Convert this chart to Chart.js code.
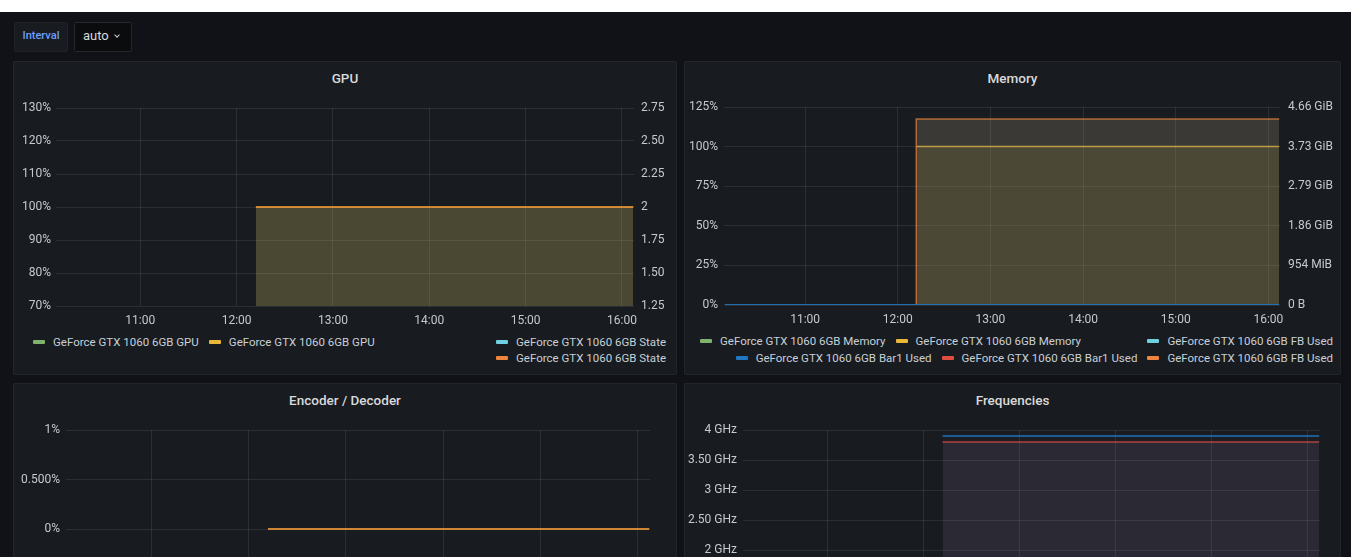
<!DOCTYPE html>
<html>
<head>
<meta charset="utf-8">
<script src="https://cdn.jsdelivr.net/npm/chart.js@4.4.0/dist/chart.umd.min.js"></script>
<style>
  html, body { margin:0; padding:0; }
  body { width:1351px; height:557px; overflow:hidden; background:#111217; position:relative; font-family: Roboto, "Noto Sans", sans-serif; }
  #topstrip { position:absolute; left:0; top:0; width:1351px; height:12px; background:#ffffff; }
  .btn { position:absolute; top:22px; height:30px; box-sizing:border-box; border-radius:2px; line-height:28px; }
  #intv { left:14px; width:54px; background:#181b1f; box-shadow: inset 0 0 0 1px #202226; color:#6e9fff; font-size:11px; font-weight:500; text-align:center; }
  #auto { left:74px; width:58px; background:#0b0c0e; box-shadow: inset 0 0 0 1px #24272c; color:#d8d9da; font-size:13px; padding-left:9px; }
  #auto .chev { display:inline-block; width:3px; height:3px; border-right:1px solid #c7d0d9; border-bottom:1px solid #c7d0d9; transform: rotate(45deg); margin-left:6px; position:relative; top:-3px; }
  .panel { position:absolute; background:#181b1f; box-shadow: inset 0 0 0 1px #22252a; border-radius:2px; overflow:hidden; }
  .ptitle { position:absolute; left:0; right:0; top:7px; height:20px; line-height:20px; text-align:center; color:#d8d9da; font-size:13.5px; font-weight:500; }
  .cw { position:absolute; }
  .lrow { position:absolute; display:flex; align-items:center; gap:10px; height:16px; white-space:nowrap; }
  .li { display:flex; align-items:center; color:#c7d0d9; font-size:11.5px; }
  .sw { width:12px; height:4px; margin-right:8px; border-radius:1px; }
</style>
</head>
<body>
<div id="topstrip"></div>
<div class="btn" id="intv">Interval</div>
<div class="btn" id="auto">auto<span class="chev"></span></div>

<div class="panel" id="p1" style="left:13px; top:61px; width:664px; height:314px;">
  <div class="ptitle">GPU</div>
  <div class="cw" style="left:0; top:31px; width:664px; height:238px;"><canvas id="c1"></canvas></div>
  <div class="lrow" id="l1a" style="left:20px; top:273px;"></div>
  <div class="lrow" id="l1b" style="right:11px; top:273px;"></div>
  <div class="lrow" id="l1c" style="right:11px; top:289px;"></div>
</div>

<div class="panel" id="p2" style="left:684px; top:61px; width:657px; height:314px;">
  <div class="ptitle">Memory</div>
  <div class="cw" style="left:0; top:30px; width:657px; height:238px;"><canvas id="c2"></canvas></div>
  <div class="lrow" id="l2a" style="left:16px; top:272px;"></div>
  <div class="lrow" id="l2b" style="right:8px; top:272px;"></div>
  <div class="lrow" id="l2c" style="right:8px; top:289px;"></div>
</div>

<div class="panel" id="p3" style="left:13px; top:383px; width:664px; height:314px;">
  <div class="ptitle">Encoder / Decoder</div>
  <div class="cw" style="left:0; top:31px; width:664px; height:238px;"><canvas id="c3"></canvas></div>
</div>

<div class="panel" id="p4" style="left:684px; top:383px; width:657px; height:314px;">
  <div class="ptitle">Frequencies</div>
  <div class="cw" style="left:0; top:31px; width:657px; height:250px;"><canvas id="c4"></canvas></div>
</div>

<script>
// ---------- DATA ----------
const timeRange = ['10:07:30', '16:07:30'];
const timeTicks = ['11:00', '12:00', '13:00', '14:00', '15:00', '16:00'];

// GPU panel
const gpuTimes = ['12:12', '16:07'];
const gpuUtil = [100, 100];          // % (left axis)
const gpuState = [2, 2];             // (right axis)
const gpuLeftTicks = [70, 80, 90, 100, 110, 120, 130];
const gpuLeftLabels = ['70%', '80%', '90%', '100%', '110%', '120%', '130%'];
const gpuRightTicks = [1.25, 1.5, 1.75, 2, 2.25, 2.5, 2.75];
const gpuRightLabels = ['1.25', '1.50', '1.75', '2', '2.25', '2.50', '2.75'];

// Memory panel
const memTimes = ['12:12', '16:07'];
const memPercent = [100, 100];                 // % (left axis)
const fbTimes = ['12:12', '12:12', '16:07'];
const fbUsed = [0, 4.7e9, 4.7e9];              // bytes (right axis)
const bar1Times = ['10:08', '16:07'];
const bar1Used = [6e6, 6e6];                   // bytes (right axis)
const memLeftTicks = [0, 25, 50, 75, 100, 125];
const memLeftLabels = ['0%', '25%', '50%', '75%', '100%', '125%'];
const memRightTicks = [0, 1e9, 2e9, 3e9, 4e9, 5e9];
const memRightLabels = ['0 B', '954 MiB', '1.86 GiB', '2.79 GiB', '3.73 GiB', '4.66 GiB'];

// Encoder / Decoder panel
const encTimes = ['12:12', '16:07'];
const encoderUtil = [0, 0];
const decoderUtil = [0, 0];
const encTicks = [-1, -0.5, 0, 0.5, 1];
const encLabels = ['-1%', '-0.500%', '0%', '0.500%', '1%'];

// Frequencies panel
const freqTimes = ['12:12', '16:07'];
const memClock = [3.9, 3.9];        // GHz
const maxClock = [3.8, 3.8];        // GHz
const freqTicks = [0.5, 1, 1.5, 2, 2.5, 3, 3.5, 4];
const freqLabels = ['500 MHz', '1 GHz', '1.50 GHz', '2 GHz', '2.50 GHz', '3 GHz', '3.50 GHz', '4 GHz'];

// Palette
const C = { green:'#7EB26D', yellow:'#EAB839', cyan:'#6ED0E0', orange:'#EF843C', red:'#E24D42', blue:'#1F78C1' };

// ---------- HELPERS ----------
function tmin(s) { const p = s.split(':').map(Number); return p[0]*60 + p[1] + (p[2]||0)/60; }
function pts(times, vals) { return times.map((t, i) => ({ x: tmin(t), y: vals[i] })); }

Chart.defaults.font.family = 'Roboto, "Noto Sans", sans-serif';
Chart.defaults.font.size = 12;
Chart.defaults.color = '#c7c9cc';
const GRID = 'rgba(255,255,255,0.085)';
const PAD = { top: 16, bottom: 0, left: 0, right: 0 };

function xScale() {
  return {
    type: 'linear', min: tmin(timeRange[0]), max: tmin(timeRange[1]),
    afterBuildTicks: s => { s.ticks = timeTicks.map(t => ({ value: tmin(t) })); },
    afterFit: s => { s.height = 24; },
    ticks: { padding: 8, maxRotation: 0, autoSkip: false, callback: (v, i) => timeTicks[i] },
    grid: { color: GRID, drawTicks: false }, border: { display: false }
  };
}
function yScale(pos, min, max, ticks, labels, width, pad, grid) {
  return {
    type: 'linear', position: pos, min: min, max: max,
    afterBuildTicks: s => { s.ticks = ticks.map(v => ({ value: v })); },
    afterFit: s => { s.width = width; },
    ticks: { padding: pad, autoSkip: false, callback: (v, i) => labels[i] },
    grid: { display: grid, color: GRID, drawTicks: false }, border: { display: false }
  };
}
function line(label, data, color, width, axis, fill, bg) {
  return { label, data, borderColor: color, borderWidth: width, pointRadius: 0, tension: 0,
           yAxisID: axis, fill: fill ? 'start' : false, backgroundColor: bg || 'transparent' };
}
function baseOpts(scales, padding) {
  return {
    responsive: true, maintainAspectRatio: false, animation: false,
    layout: { padding: padding },
    plugins: { legend: { display: false }, tooltip: { enabled: false } },
    scales: scales
  };
}
function legend(id, items) {
  const el = document.getElementById(id);
  items.forEach(([c, t]) => {
    const d = document.createElement('div'); d.className = 'li';
    d.innerHTML = '<span class="sw" style="background:' + c + '"></span><span>' + t + '</span>';
    el.appendChild(d);
  });
}

// ---------- GPU ----------
new Chart(document.getElementById('c1'), {
  type: 'line',
  data: { datasets: [
    line('GeForce GTX 1060 6GB State', pts(gpuTimes, gpuState), 'rgba(239,132,60,0.75)', 1.5, 'y1', false),
    line('GeForce GTX 1060 6GB GPU', pts(gpuTimes, gpuUtil), 'rgba(234,184,57,0.9)', 1.5, 'y', true, 'rgba(191,177,101,0.30)'),
    line('GeForce GTX 1060 6GB GPU', [], C.green, 1.5, 'y', false),
    line('GeForce GTX 1060 6GB State', [], C.cyan, 1.5, 'y1', false)
  ]},
  options: baseOpts({
    x: xScale(),
    y: yScale('left', 70, 130, gpuLeftTicks, gpuLeftLabels, 43, 5, true),
    y1: yScale('right', 1.25, 2.75, gpuRightTicks, gpuRightLabels, 43, 7, false)
  }, PAD)
});
legend('l1a', [[C.green, 'GeForce GTX 1060 6GB GPU'], [C.yellow, 'GeForce GTX 1060 6GB GPU']]);
legend('l1b', [[C.cyan, 'GeForce GTX 1060 6GB State']]);
legend('l1c', [[C.orange, 'GeForce GTX 1060 6GB State']]);

// ---------- Memory ----------
new Chart(document.getElementById('c2'), {
  type: 'line',
  data: { datasets: [
    line('GeForce GTX 1060 6GB Bar1 Used', pts(bar1Times, bar1Used), 'rgba(31,120,193,0.9)', 1.5, 'y1', false),
    line('GeForce GTX 1060 6GB FB Used', pts(fbTimes, fbUsed), 'rgba(239,132,60,0.7)', 1.5, 'y1', true, 'rgba(194,182,146,0.20)'),
    line('GeForce GTX 1060 6GB Memory', pts(memTimes, memPercent), 'rgba(234,184,57,0.75)', 1.5, 'y', true, 'rgba(165,151,41,0.15)'),
    line('GeForce GTX 1060 6GB Memory', [], C.green, 1.5, 'y', false),
    line('GeForce GTX 1060 6GB FB Used', [], C.cyan, 1.5, 'y1', false),
    line('GeForce GTX 1060 6GB Bar1 Used', [], C.red, 1.5, 'y1', false)
  ]},
  options: baseOpts({
    x: xScale(),
    y: yScale('left', 0, 125, memLeftTicks, memLeftLabels, 40, 6, true),
    y1: yScale('right', 0, 5e9, memRightTicks, memRightLabels, 61, 8, false)
  }, PAD)
});
legend('l2a', [[C.green, 'GeForce GTX 1060 6GB Memory'], [C.yellow, 'GeForce GTX 1060 6GB Memory']]);
legend('l2b', [[C.cyan, 'GeForce GTX 1060 6GB FB Used']]);
legend('l2c', [[C.blue, 'GeForce GTX 1060 6GB Bar1 Used'], [C.red, 'GeForce GTX 1060 6GB Bar1 Used'], [C.orange, 'GeForce GTX 1060 6GB FB Used']]);

// ---------- Encoder / Decoder ----------
new Chart(document.getElementById('c3'), {
  type: 'line',
  data: { datasets: [
    line('GeForce GTX 1060 6GB Decoder', pts(encTimes, decoderUtil), 'rgba(239,132,60,0.7)', 1.5, 'y', false),
    line('GeForce GTX 1060 6GB Encoder', pts(encTimes, encoderUtil), 'rgba(234,184,57,0.9)', 1.5, 'y', false)
  ]},
  options: baseOpts({
    x: xScale(),
    y: yScale('left', -1, 1, encTicks, encLabels, 53, 6, true)
  }, { top: 16, bottom: 0, left: 0, right: 27 })
});

// ---------- Frequencies ----------
new Chart(document.getElementById('c4'), {
  type: 'line',
  data: { datasets: [
    line('GeForce GTX 1060 6GB Memory Clock', pts(freqTimes, memClock), 'rgba(31,120,193,0.95)', 1.5, 'y', true, 'rgba(120,100,160,0.04)'),
    line('GeForce GTX 1060 6GB Max Clock', pts(freqTimes, maxClock), 'rgba(226,77,66,0.75)', 1.5, 'y', true, 'rgba(144,120,164,0.13)')
  ]},
  options: baseOpts({
    x: xScale(),
    y: yScale('left', 0.5, 4, freqTicks, freqLabels, 59, 6, true)
  }, { top: 16, bottom: 0, left: 0, right: 21 })
});
</script>
</body>
</html>
